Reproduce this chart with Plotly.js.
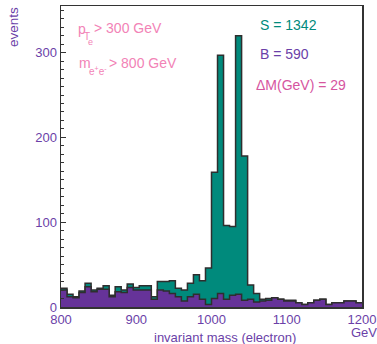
<!DOCTYPE html>
<html>
<head>
<meta charset="utf-8">
<script src="https://cdn.plot.ly/plotly-3.0.1.min.js"></script>
<style>html,body{margin:0;padding:0;background:#fff;}#chart{width:377px;height:344px;}</style>
</head>
<body>
<div id="chart"></div>
<script>
// bin lower edges (GeV), bin width 8 GeV
var binStarts = [800,808,816,824,832,840,848,856,864,872,
                 880,888,896,904,912,920,928,936,944,952,
                 960,968,976,984,992,1000,1008,1016,1024,1032,
                 1040,1048,1056,1064,1072,1080,1088,1096,1104,1112,
                 1120,1128,1136,1144,1152,1160,1168,1176,1184,1192];
var binWidth = 8;
// signal + background (stacked total)
var totalEvents = [22,15,12,19,28,20,22,25,14,24,
                   20,27,23,25,25,12,30,30,31,22,
                   20,28,38,31,46,159,297,96,95,320,
                   178,26,16,9,10,11,9,8,8,5,
                   3,5,8,9,3,5,5,7,7,5];
// background only
var backgroundEvents = [20,12,11,17,24,18,21,21,12,18,
                        17,23,20,20,20,9,20,19,16,12,
                        7,12,15,9,3,10,16,9,14,15,
                        8,9,6,7,8,11,9,7,7,5,
                        3,5,8,9,3,5,5,7,7,5];
var xTicks = [800,900,1000,1100,1200];
var yTicks = [0,100,200,300];

function stepX(starts){ var e = starts.slice(); e.push(starts[starts.length-1]+binWidth); return e; }
function stepY(v){ var o = v.slice(); o.push(v[v.length-1]); return o; }

var teal = '#008a7c', purple = '#663399', txtPurple = '#6b3fa8';

var traces = [
  {x: stepX(binStarts), y: stepY(totalEvents), type:'scatter', mode:'lines',
   line:{shape:'hv', color:'#2e2e2e', width:1.5}, fill:'tozeroy', fillcolor:teal, hoverinfo:'skip'},
  {x: stepX(binStarts), y: stepY(backgroundEvents), type:'scatter', mode:'lines',
   line:{shape:'hv', color:'#2e2e2e', width:1.5}, fill:'tozeroy', fillcolor:purple, hoverinfo:'skip'}
];

var L = 61, R = 362, T = 6, B = 307;
function px(x){ return (x-L)/(R-L); }
function py(y){ return (B-y)/(B-T); }
function ann(text, x, y, size, color, xa, extra){
  var a = {text:text, xref:'paper', yref:'paper', x:px(x), y:py(y), showarrow:false,
           xanchor:xa||'left', yanchor:'middle', font:{family:'Liberation Sans, Arial, sans-serif', size:size, color:color}};
  if (extra) for (var k in extra) a[k]=extra[k];
  return a;
}
var pink = '#f283b6';
var annotations = [
  ann('events', 13, 27, 13.5, txtPurple, 'center', {textangle:-90}),
  ann('invariant mass (electron)', 225, 337, 13, txtPurple, 'center'),
  ann('GeV', 364, 333, 13, txtPurple, 'center'),
  ann('S = 1342', 258, 25, 14, teal),
  ann('B = 590', 258, 54, 14, txtPurple),
  ann('\u0394M(GeV) = 29', 254, 85, 14, '#d6559f'),
  ann('p', 76, 29, 14, pink),
  ann('T', 82, 36, 10, pink),
  ann('e', 86, 42, 9, pink),
  ann('> 300 GeV', 92, 28, 14, pink),
  ann('m', 77, 63, 14, pink),
  ann('e<sup>+</sup>e<sup>-</sup>', 87, 71, 10, pink),
  ann('> 800 GeV', 107, 63, 14, pink)
];

var layout = {
  width:377, height:344,
  margin:{l:L, r:377-R, t:T, b:344-B},
  paper_bgcolor:'#fff', plot_bgcolor:'#fff',
  showlegend:false,
  font:{family:'Liberation Sans, Arial, sans-serif', size:13, color:txtPurple},
  xaxis:{range:[800,1200], tickvals:xTicks, ticks:'', showgrid:false, zeroline:false,
         showline:true, mirror:true, linecolor:'#333', linewidth:1.5,
         tickfont:{size:13, color:txtPurple}},
  yaxis:{range:[0,355], tickvals:yTicks, ticks:'inside', ticklen:5, tickwidth:1.2, tickcolor:'#333',
         minor:{dtick:10, ticks:'inside', ticklen:3, tickcolor:'#333', tickwidth:1, showgrid:false},
         showgrid:false, zeroline:false, showline:true, mirror:true, linecolor:'#333', linewidth:1.5,
         tickfont:{size:13, color:txtPurple}},
  annotations: annotations
};
Plotly.newPlot('chart', traces, layout, {staticPlot:true, displayModeBar:false});
</script>
</body>
</html>
